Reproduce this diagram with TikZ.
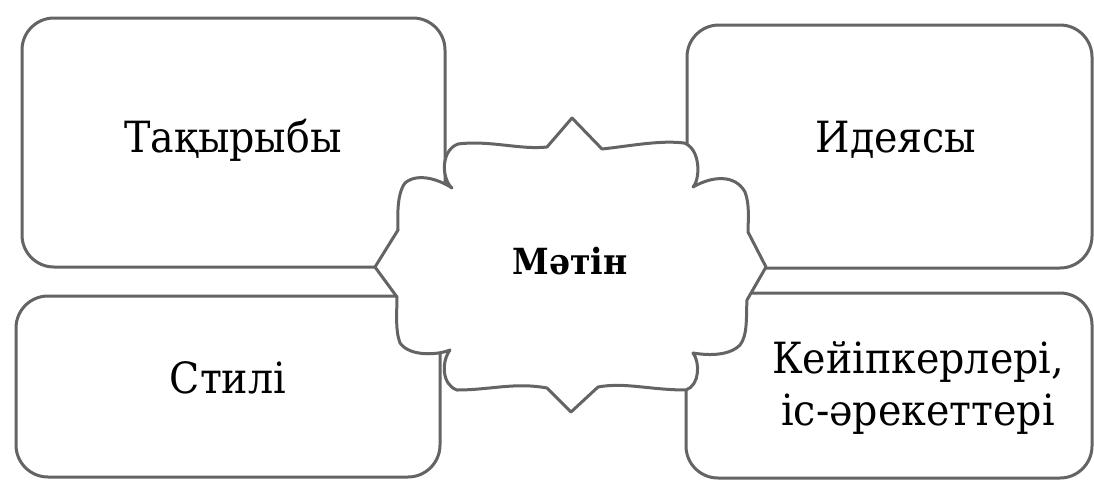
\documentclass[tikz,border=0pt]{standalone}
\usepackage{fontspec}
\setmainfont{DejaVu Serif}
\definecolor{edgegray}{RGB}{100,100,100}
\newcommand{\narrow}[1]{\scalebox{0.92}[1]{#1}}
\begin{document}
\begin{tikzpicture}[x=1pt,y=-1pt,
  box/.style={draw=edgegray, line width=3pt, rounded corners=32pt, fill=white, inner sep=0pt},
  lbl/.style={inner sep=0pt, font=\fontsize{43}{52}\selectfont, text=black},
  ctr/.style={inner sep=0pt, font=\fontsize{36}{40}\selectfont\bfseries, text=black}]
\useasboundingbox (0,0) rectangle (1094,479);
\fill[white] (0,0) rectangle (1094,479);
% boxes
\node[box, minimum width=423pt, minimum height=249pt] (tl) at (233.5,142.5) {};
\node[box, minimum width=424pt, minimum height=181pt] (bl) at (228,386.5) {};
\node[box, minimum width=405pt, minimum height=243pt] (tr) at (889.5,146.5) {};
\node[box, minimum width=406pt, minimum height=185pt] (br) at (889,385.5) {};
% central frame
\draw[draw=edgegray, line width=3pt, fill=white, line join=round]
 (458,144)
 .. controls (490,140) and (520,150) .. (547,147)
 -- (572,118) -- (602,149)
 .. controls (630,146) and (660,140) .. (684,143)
 .. controls (700,148) and (701,178) .. (693,187)
 .. controls (712,176) and (735,174) .. (745,192)
 .. controls (750,205) and (748,222) .. (748,232)
 -- (766,267)
 -- (747,300)
 .. controls (746,315) and (748,335) .. (740,345)
 .. controls (728,357) and (705,355) .. (693,353)
 .. controls (700,362) and (700,385) .. (686,390)
 .. controls (650,390) and (625,382) .. (598,387)
 -- (571,412) -- (547,388)
 .. controls (515,382) and (490,390) .. (457,390)
 .. controls (442,385) and (441,362) .. (450,350)
 .. controls (438,355) and (410,357) .. (400,343)
 .. controls (395,330) and (397,310) .. (397,297)
 -- (375,267)
 -- (398,230)
 .. controls (398,220) and (396,195) .. (405,183)
 .. controls (418,172) and (440,180) .. (452,188)
 .. controls (441,178) and (441,150) .. (458,144)
 -- cycle;
% labels
\node[lbl, anchor=base] (tlt) at (233,152) {\narrow{Тақырыбы}};
\node[lbl, anchor=base] (blt) at (228,393) {\narrow{Стилі}};
\node[lbl, anchor=base] (trt) at (896,152) {\narrow{Идеясы}};
\node[lbl, anchor=base] (brt1) at (918,373) {\narrow{Кейіпкерлері,}};
\node[lbl, anchor=base] (brt2) at (918,425) {\narrow{іс-әрекеттері}};
\node[ctr, anchor=base] (ct) at (570,274) {\narrow{Мәтін}};
\end{tikzpicture}
\end{document}
